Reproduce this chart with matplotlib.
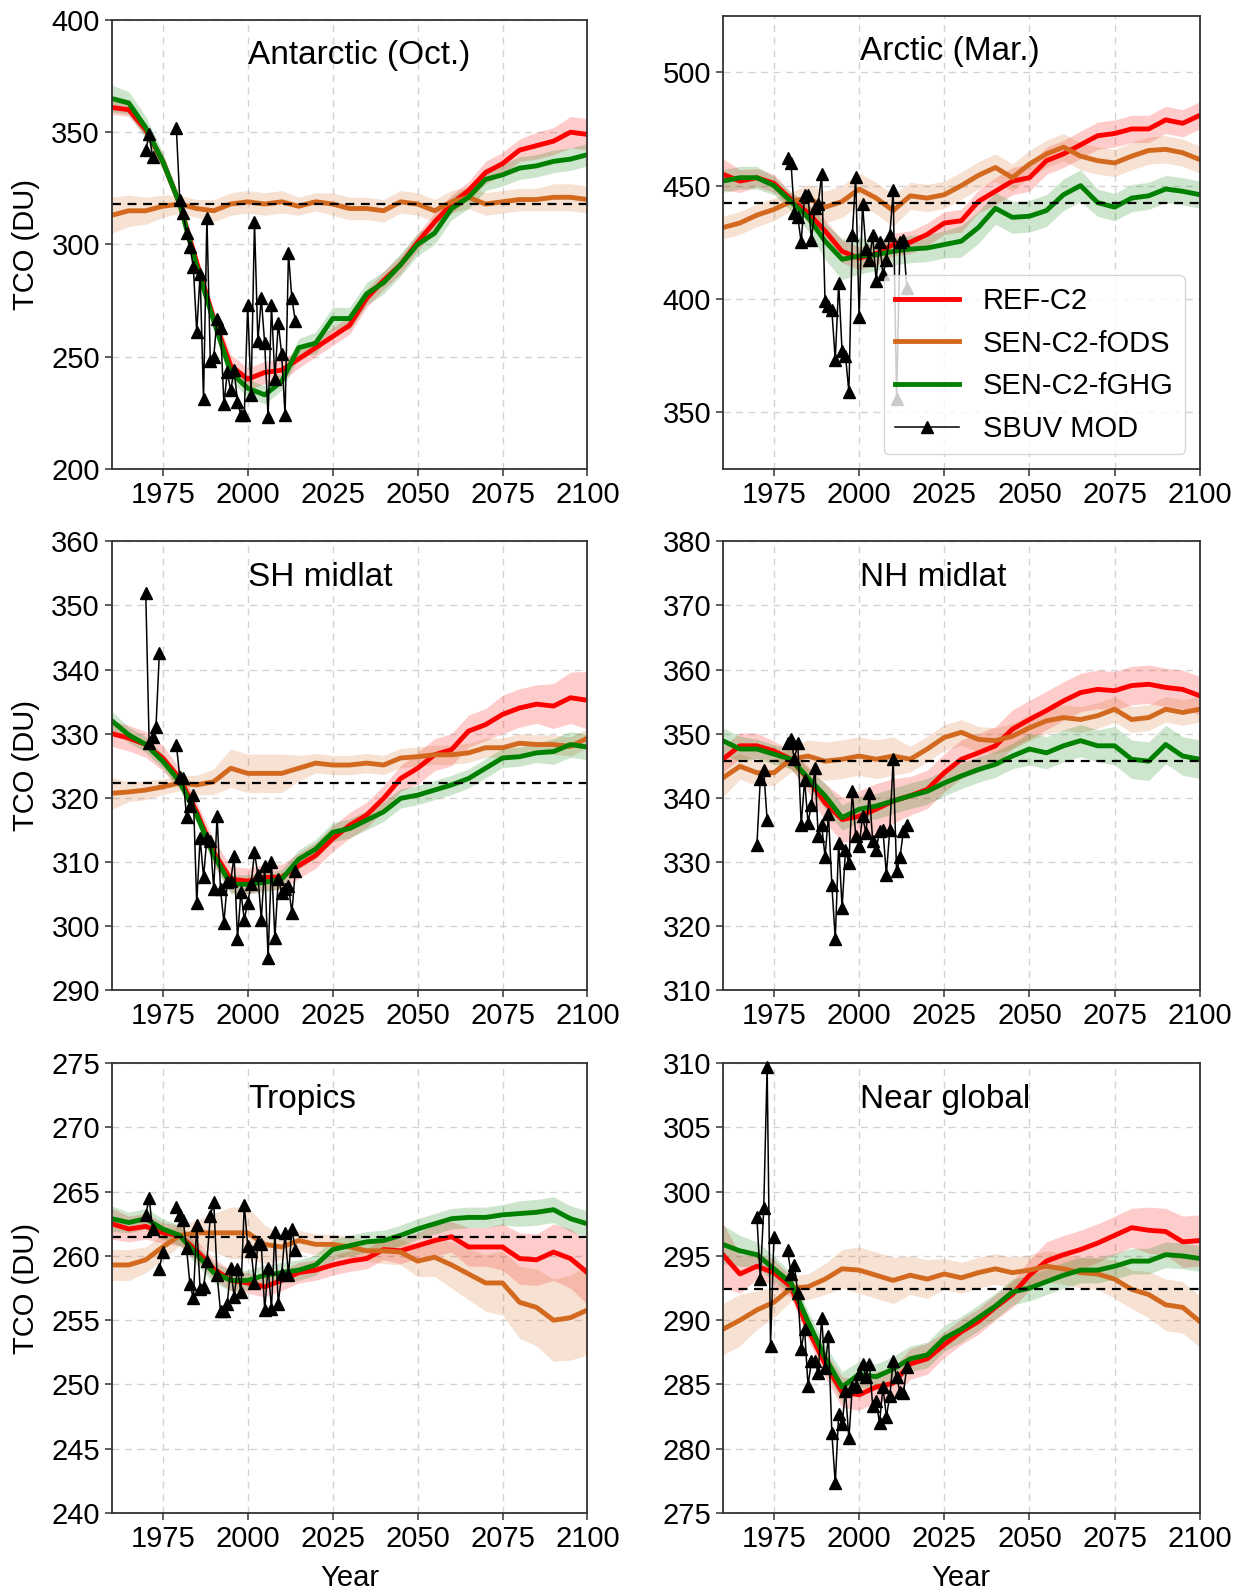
import numpy as np
import matplotlib
matplotlib.use("Agg")
import matplotlib.pyplot as plt

plt.rcParams["font.family"] = ["Liberation Sans", "DejaVu Sans"]

# model years (5-yearly) and SBUV MOD years
years = np.arange(1960, 2101, 5)
sbuv_years = np.arange(1979, 2015)

# ---------------- Antarctic (Oct.) ----------------
ant_ref = [361, 360, 351, 337, 318, 292, 267, 246, 240, 243, 244, 249, 254, 259, 264,
           276, 284, 291, 301, 310, 318, 324, 332, 336, 342, 344, 346, 350, 349]
ant_ods = [313, 315, 315, 317, 318, 316, 315, 318, 319, 318, 319, 317, 319, 318, 316,
           316, 315, 319, 318, 315, 319, 321, 318, 319, 320, 320, 321, 321, 320]
ant_ghg = [365, 363, 352, 337, 318, 290, 266, 243, 236, 233, 239, 254, 256, 267, 267,
           278, 283, 291, 300, 305, 316, 321, 329, 331, 334, 335, 337, 338, 340]
ant_ref_sd = [3, 3, 3, 3, 3, 3, 4, 5, 5, 5, 5, 4, 4, 4, 4, 4, 4, 4, 4, 4, 4, 4, 5, 5, 5, 6, 6, 7, 7]
ant_ods_sd = [8, 7, 6, 5, 4, 4, 5, 5, 5, 5, 5, 4, 4, 5, 5, 5, 5, 5, 5, 5, 5, 5, 5, 5, 5, 5, 6, 6, 6]
ant_ghg_sd = [6, 5, 5, 4, 3, 3, 4, 4, 4, 4, 4, 4, 5, 5, 5, 5, 5, 5, 5, 5, 5, 5, 5, 5, 5, 5, 5, 5, 5]
ant_base = 318
ant_obs_early_years = [1970, 1971, 1972]
ant_obs_early = [342, 349, 339]
ant_obs = [352, 320, 314, 305, 299, 290, 261, 287, 231, 312, 248, 250, 267, 263, 229, 243, 235, 244,
           230, 224, 224, 273, 233, 310, 257, 276, 256, 223, 273, 240, 265, 251, 224, 296, 276, 266]

# ---------------- Arctic (Mar.) ----------------
arc_ref = [455, 452, 453.5, 451, 444, 438, 430, 421, 418, 420, 424, 425, 428.5, 433.5, 434.5,
           443, 447.5, 452, 453.5, 461, 464, 468, 472, 473, 475, 475, 479, 477.5, 481]
arc_ods = [431.5, 433.5, 437, 439.5, 443, 444.5, 440.5, 443, 448.5, 444.5, 439, 445.5, 444.5, 446, 450,
           454.5, 458, 453.5, 459.5, 464, 467, 463, 461, 460, 463, 465.5, 466, 464.5, 461.5]
arc_ghg = [452, 453.5, 453.5, 450, 443, 436, 425.5, 417.5, 419, 419.5, 421, 422, 422.5, 424, 425.5,
           431.5, 440, 436, 436.5, 439, 446, 450, 442.5, 440.5, 444.5, 445.5, 448.5, 447.5, 446]
arc_ref_sd = [7, 5, 4, 4, 3, 4, 5, 5, 5, 5, 5, 5, 5, 5, 5, 5, 6, 6, 6, 6, 6, 6, 6, 6, 6, 6, 6, 6, 6]
arc_ods_sd = [5, 5, 5, 5, 4, 6, 7, 7, 7, 7, 7, 6, 6, 6, 6, 6, 6, 6, 6, 6, 6, 6, 6, 6, 6, 6, 6, 6, 6]
arc_ghg_sd = [5, 5, 5, 4, 4, 6, 8, 9, 8, 7, 6, 6, 6, 6, 7, 7, 7, 7, 7, 7, 7, 7, 6, 6, 6, 6, 6, 6, 6]
arc_base = 442.5
arc_obs_early_years = []
arc_obs_early = []
arc_obs = [462, 460, 438, 436, 425, 446, 446, 426, 440, 442, 455, 399, 397, 395, 373, 407, 377, 375,
           359, 428, 454, 392, 442, 422, 417, 428, 408, 425, 411, 417, 428, 448, 356, 425, 426, 405]

# ---------------- SH midlat ----------------
sh_ref = [330, 329.3, 328.3, 326.2, 323, 317.8, 311.5, 307.3, 307, 307.6, 307.6, 309.4, 311, 313.6, 315.7,
          317.3, 319.9, 323, 324.6, 326.7, 327.5, 330.4, 331.4, 333, 334, 334.6, 334.3, 335.6, 335.2]
sh_ods = [320.7, 320.9, 321.2, 321.7, 322.3, 322, 322.5, 324.6, 323.8, 323.8, 323.8, 324.6, 325.4, 325.1, 325.1,
          325.4, 325.1, 326.2, 326.4, 326.7, 326.7, 327, 327.8, 327.8, 328.5, 328.3, 328.3, 328, 329.3]
sh_ghg = [332, 329.8, 328.3, 325.7, 322.5, 317.3, 311, 306.5, 306.5, 306.8, 307.3, 310.4, 312, 314.6, 315.2,
          316.5, 317.8, 319.9, 320.4, 321.2, 322, 323, 324.6, 326.2, 326.4, 327, 327.2, 328.3, 327.9]
sh_ref_sd = [2, 2, 2, 2, 1.5, 1.5, 2, 2, 2, 2, 2, 2, 2, 2, 2, 2, 2, 2, 2.5, 2.5, 2.5, 2.5, 2.5, 3, 3, 3, 3.5, 4, 4.5]
sh_ods_sd = [2.5, 1.5, 1.5, 1.2, 1.2, 1.5, 2, 3, 3, 3, 3, 2, 1.5, 1.5, 1.5, 1.5, 1.5, 1.5, 1.5, 1.5, 1.5, 1.5,
             1.5, 1.5, 1.5, 1.5, 1.5, 1.5, 1.5]
sh_ghg_sd = [1.5, 1.2, 1.2, 1.2, 1.2, 1.2, 1.5, 1.5, 1.5, 1.5, 1.5, 1.5, 1.5, 1.5, 1.5, 1.5, 1.5, 1.5, 1.5, 1.5,
             1.5, 1.5, 1.5, 1.5, 1.5, 1.5, 2, 2, 2]
sh_base = 322.3
sh_obs_early_years = [1970, 1971, 1972, 1973, 1974]
sh_obs_early = [352, 328.5, 329.5, 331, 342.5]
sh_obs = [328.3, 323.3, 323, 317, 318.7, 320.4, 303.6, 313.7, 307.6, 313.7, 313.3, 305.8, 317.1, 305.7,
          300.5, 306.9, 307, 310.9, 298, 305.3, 301, 303.6, 306.5, 311.5, 307.9, 301, 309.4, 295, 309.9,
          298.1, 307.3, 305.2, 305.7, 306.3, 302, 308.6]

# ---------------- NH midlat ----------------
nh_ref = [346, 348.1, 348.1, 347.3, 346, 342.9, 339.2, 336.6, 337.1, 338.2, 339.5, 340.3, 341.3, 343.9, 346,
          347, 348.1, 350.7, 352.2, 353.6, 355.1, 356.4, 356.9, 356.7, 357.5, 357.7, 357.2, 356.9, 355.9]
nh_ods = [343.1, 344.9, 343.9, 343.9, 346, 346.5, 345.7, 346, 346.5, 346, 346.5, 346, 347.6, 349.4, 350.2,
          349.1, 348.9, 349.6, 350.9, 352, 352.5, 352.2, 352.8, 353.8, 352.2, 352.5, 353.8, 353.3, 353.8]
nh_ghg = [348.9, 347.6, 347.6, 346.8, 346, 343.1, 340.3, 336.9, 338.2, 338.7, 339.5, 340.3, 341, 342.3, 343.4,
          344.4, 345.2, 346.5, 347.6, 347, 348.1, 348.9, 348.1, 348.1, 346, 345.7, 348.3, 346.5, 346]
nh_ref_sd = [2, 2, 2, 1.5, 1.5, 2, 3, 3.5, 4, 4, 3.5, 3, 3, 3, 3, 3, 3, 3, 3, 3, 3, 3, 3, 3, 3, 3, 3, 3, 3]
nh_ods_sd = [3, 2, 2, 2, 2, 2.5, 3, 3, 3, 3, 3, 2, 2, 2, 2, 2, 2, 2, 2, 2, 2, 2, 2, 2, 2, 2, 2, 2, 2]
nh_ghg_sd = [2, 2, 1.5, 1.5, 1.5, 1.5, 2, 2, 2, 2, 2, 2, 2, 2, 2, 2, 2, 2, 2.5, 2.5, 2.5, 2.5, 2.5, 3, 3, 3,
             3, 3, 3]
nh_base = 345.7
nh_obs_early_years = [1970, 1971, 1972, 1973]
nh_obs_early = [332.7, 342.9, 344.3, 336.5]
nh_obs = [348.6, 349.1, 346, 348.5, 335.7, 342.8, 336.1, 338.9, 344.7, 334, 335.8, 330.8, 337.4, 326.4,
          317.9, 333, 322.8, 331.9, 329.8, 341, 334, 332.4, 337.1, 334.5, 340.8, 333.2, 331.9, 334.8,
          334.9, 328, 335, 346, 328.5, 330.7, 334.8, 335.8]

# ---------------- Tropics ----------------
tro_ref = [262.5, 262.1, 262.3, 261.8, 261.6, 260.4, 259, 258.1, 257.9, 257.6, 258.1, 258.7, 258.9, 259.3,
           259.6, 259.8, 260.5, 260.4, 260.8, 261.2, 261.5, 260.7, 260.7, 260.7, 259.8, 259.7, 260.3,
           259.8, 258.7]
tro_ods = [259.3, 259.3, 259.7, 260.7, 261.6, 261.8, 261.8, 261.8, 261.8, 260.9, 260.7, 261.2, 260.9, 260.9,
           260.7, 260.4, 260.4, 260.3, 259.6, 259.9, 259.3, 258.6, 257.9, 257.9, 256.4, 256, 255, 255.2,
           255.8]
tro_ghg = [262.9, 262.6, 262.9, 262.1, 261.6, 260.1, 258.7, 258.1, 258.1, 258.5, 258.7, 258.9, 259.3, 260.5,
           260.8, 261.1, 261.2, 261.6, 262.1, 262.5, 262.9, 263, 263, 263.2, 263.3, 263.4, 263.6, 262.9,
           262.5]
tro_ref_sd = [1.2, 1, 1, 0.8, 0.8, 0.8, 0.8, 0.8, 0.8, 0.8, 0.8, 0.8, 0.8, 0.8, 0.8, 0.8, 0.8, 1, 1, 1.2,
              1.2, 1.5, 1.5, 1.8, 2, 2, 2.2, 2.3, 2.5]
tro_ods_sd = [1.2, 1.2, 1, 1, 0.8, 1, 1.5, 2, 2, 1.5, 1, 0.8, 0.8, 0.8, 0.8, 0.8, 1, 1, 1.2, 1.5, 1.8, 2,
              2.2, 2.5, 2.8, 3, 3.2, 3.3, 3.5]
tro_ghg_sd = [1, 0.8, 0.8, 0.8, 0.8, 0.8, 0.8, 0.8, 0.8, 0.8, 0.8, 0.8, 0.8, 0.8, 0.8, 0.8, 0.8, 0.8, 0.8,
              0.8, 0.8, 0.8, 0.8, 0.8, 1, 1, 1, 1, 1]
tro_base = 261.5
tro_obs_early_years = [1970, 1971, 1972, 1974, 1975]
tro_obs_early = [263.2, 264.5, 262.1, 259.0, 260.3]
tro_obs = [263.8, 263.2, 262.8, 260.6, 257.8, 256.7, 262.4, 257.4, 257.6, 259.6, 263.1, 264.2, 258.5,
           255.7, 255.7, 256.3, 259.1, 256.8, 259.0, 257.2, 264.0, 260.8, 260.4, 257.9, 261.0, 260.9,
           255.8, 259.1, 255.9, 261.9, 256.3, 258.6, 261.8, 258.5, 262.1, 260.5]

# ---------------- Near global ----------------
ng_ref = [295.1, 293.6, 294.2, 293.7, 292.6, 289.3, 286.6, 284.4, 284.2, 284.8, 285.1, 286.6, 287, 288.1,
          289.1, 289.9, 291, 292, 293.5, 294.6, 295.1, 295.5, 296, 296.6, 297.2, 297, 296.9, 296.1, 296.2]
ng_ods = [289.3, 290, 290.8, 291.4, 292.5, 292.6, 293.2, 294, 293.9, 293.5, 293.1, 293.5, 293.2, 293.6,
          293.3, 293.7, 294, 293.7, 293.9, 294.2, 294, 293.7, 293.6, 293.2, 292.4, 292, 291.2, 291, 289.9]
ng_ghg = [295.9, 295.4, 295.1, 294, 292.9, 289.9, 287.1, 284.8, 285.8, 285.6, 286.2, 287, 287.3, 288.6,
          289.3, 290.2, 291.1, 292.2, 292.5, 293, 293.5, 293.9, 293.9, 294.2, 294.6, 294.6, 295.1, 295,
          294.8]
ng_ref_sd = [2.5, 1.5, 1, 1, 0.8, 0.8, 1, 1.2, 1.2, 1.2, 1.2, 1.2, 1.2, 1, 1, 1, 1, 1, 1.2, 1.5, 1.5, 1.5,
             1.5, 1.5, 1.5, 1.8, 1.8, 2, 2]
ng_ods_sd = [2, 2, 1.5, 1.2, 1, 1, 1.2, 1.5, 1.8, 1.8, 1.8, 1.5, 1.5, 1.2, 1.2, 1.2, 1.2, 1.2, 1.2, 1.2,
             1.2, 1.2, 1.2, 1.5, 1.5, 1.8, 2, 2, 2]
ng_ghg_sd = [1.5, 1.2, 1, 1, 0.8, 0.8, 1, 1.2, 1, 1, 1, 1, 1, 1, 1, 1, 1, 1, 1, 1, 1, 1, 1, 1, 1, 1, 1, 1, 1]
ng_base = 292.4
ng_obs_early_years = [1970, 1971, 1972, 1973, 1974, 1975]
ng_obs_early = [298, 293.2, 298.7, 309.7, 288, 296.5]
ng_obs = [295.5, 293.6, 294.3, 292.1, 287.8, 289.3, 284.9, 286.8, 286.8, 285.9, 290.2, 286.3, 288.8,
          281.2, 277.3, 282.7, 281.9, 284.5, 280.8, 284.8, 284.9, 285.8, 286.6, 285.6, 286.6, 283.3,
          283.7, 282, 284.8, 282.5, 284.1, 286.8, 285.6, 284.4, 284.3, 286.4]

titles = ["Antarctic (Oct.)", "Arctic (Mar.)", "SH midlat", "NH midlat", "Tropics", "Near global"]
ylims = [(200, 400), (325, 525), (290, 360), (310, 380), (240, 275), (275, 310)]
ytick_sets = [np.arange(200, 401, 50), np.arange(350, 501, 50), np.arange(290, 361, 10),
              np.arange(310, 381, 10), np.arange(240, 276, 5), np.arange(275, 311, 5)]

panels = [
    (ant_ref, ant_ods, ant_ghg, ant_ref_sd, ant_ods_sd, ant_ghg_sd, ant_base,
     ant_obs_early_years, ant_obs_early, ant_obs),
    (arc_ref, arc_ods, arc_ghg, arc_ref_sd, arc_ods_sd, arc_ghg_sd, arc_base,
     arc_obs_early_years, arc_obs_early, arc_obs),
    (sh_ref, sh_ods, sh_ghg, sh_ref_sd, sh_ods_sd, sh_ghg_sd, sh_base,
     sh_obs_early_years, sh_obs_early, sh_obs),
    (nh_ref, nh_ods, nh_ghg, nh_ref_sd, nh_ods_sd, nh_ghg_sd, nh_base,
     nh_obs_early_years, nh_obs_early, nh_obs),
    (tro_ref, tro_ods, tro_ghg, tro_ref_sd, tro_ods_sd, tro_ghg_sd, tro_base,
     tro_obs_early_years, tro_obs_early, tro_obs),
    (ng_ref, ng_ods, ng_ghg, ng_ref_sd, ng_ods_sd, ng_ghg_sd, ng_base,
     ng_obs_early_years, ng_obs_early, ng_obs),
]

run_names = ["REF-C2", "SEN-C2-fODS", "SEN-C2-fGHG"]
run_colors = ["red", "chocolate", "green"]

# axes boxes [left, bottom, width, height] in figure fractions
boxes = [
    [0.090, 0.7056, 0.383, 0.2819], [0.582, 0.7056, 0.384, 0.2846],
    [0.090, 0.3785, 0.383, 0.2817], [0.582, 0.3785, 0.384, 0.2817],
    [0.090, 0.0502, 0.383, 0.2824], [0.582, 0.0502, 0.384, 0.2824],
]

fig = plt.figure(figsize=(12.42, 15.93), dpi=100)

for i, (title, ylim, yt, p, box) in enumerate(zip(titles, ylims, ytick_sets, panels, boxes)):
    ref, ods, ghg, ref_sd, ods_sd, ghg_sd, base, e_years, e_vals, obs = p
    ax = fig.add_axes(box)

    runs = [np.array(ref), np.array(ods), np.array(ghg)]
    spreads = [np.array(ref_sd), np.array(ods_sd), np.array(ghg_sd)]
    for v, sd, c in zip(runs, spreads, run_colors):
        ax.fill_between(years, v - sd, v + sd, color=c, alpha=0.2, lw=0)
    for v, c, name in zip(runs, run_colors, run_names):
        ax.plot(years, v, color=c, lw=3.5, label=name)

    ax.axhline(base, color="black", ls="--", lw=1.6, dashes=(4, 3))

    # observations on a yearly axis, NaN where there is no record
    obs_years = np.arange(1970, 2015)
    obs_vals = np.full(obs_years.size, np.nan)
    for y, v in zip(e_years, e_vals):
        obs_vals[y - 1970] = v
    obs_vals[sbuv_years - 1970] = obs
    ax.plot(obs_years, obs_vals, color="black", lw=1.1, marker="^", ms=8,
            label="SBUV MOD", clip_on=False, zorder=5)

    ax.set_xlim(1960, 2100)
    ax.set_xticks(np.arange(1975, 2101, 25))
    ax.set_ylim(*ylim)
    ax.set_yticks(yt)
    ax.grid(True, ls=(0, (5, 4)), color="#d3d3d3", lw=1)
    ax.set_axisbelow(True)
    ax.tick_params(labelsize=21, length=5, width=1.1, color="#333333")
    for s in ax.spines.values():
        s.set_color("#333333")
        s.set_linewidth(1.3)

    ax.text(0.287, 0.92, title, transform=ax.transAxes, fontsize=24, va="center", ha="left")

    if i % 2 == 0:
        ax.set_ylabel("TCO (DU)", fontsize=21, labelpad=8)
    if i >= 4:
        ax.set_xlabel("Year", fontsize=21, labelpad=8)
    if i == 1:
        ax.legend(loc="lower right", fontsize=21, handlelength=2.2)

fig.savefig("out.png", dpi=100)
